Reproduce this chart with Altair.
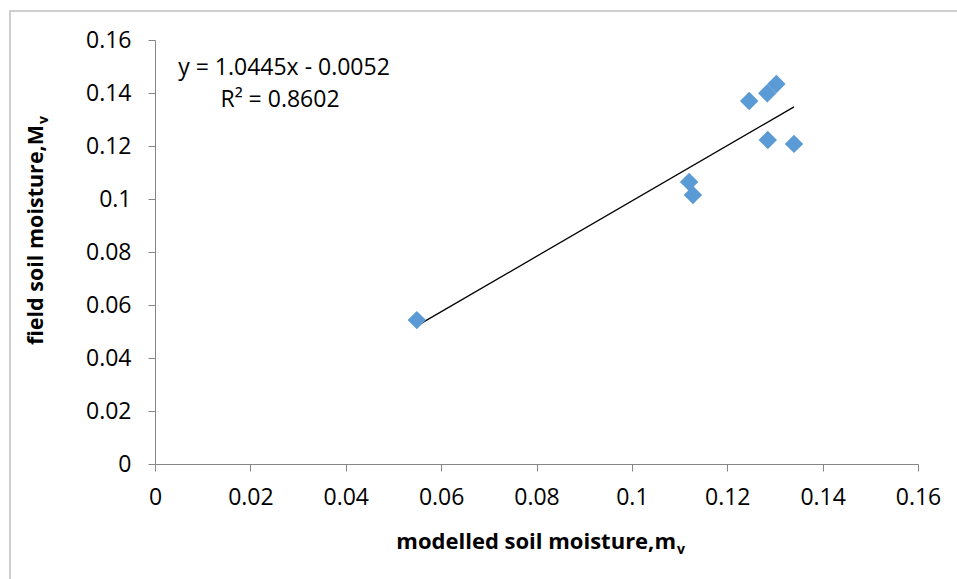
import altair as alt
import pandas as pd

# ---- data ----
modelled = [0.0549, 0.1120, 0.1128, 0.1246, 0.1284, 0.1303, 0.1285, 0.1340]
field = [0.0543, 0.1064, 0.1015, 0.1370, 0.1399, 0.1434, 0.1223, 0.1208]
tick_values = [0, 0.02, 0.04, 0.06, 0.08, 0.10, 0.12, 0.14, 0.16]
slope = 1.0445
intercept = -0.0052
eq_line1 = "y = 1.0445x - 0.0052"
eq_line2 = "R² = 0.8602"
x_title_main, x_title_sub = "modelled soil moisture,m", "v"
y_title_main, y_title_sub = "field soil moisture,M", "v"

pts = pd.DataFrame({"m": modelled, "M": field})
xmin, xmax = min(modelled), max(modelled)
trend = pd.DataFrame({"m": [xmin, xmax],
                      "M": [slope * xmin + intercept, slope * xmax + intercept]})

W, H = 763, 424
FONT = "Open Sans"
AX = "#868686"

xscale = alt.Scale(domain=[0, 0.16], nice=False, zero=False)
yscale = alt.Scale(domain=[0, 0.16], nice=False, zero=False)

xaxis = alt.Axis(values=tick_values, format="~g", title=None, grid=False,
                 domainColor=AX, tickColor=AX, tickSize=7, domainWidth=1, tickWidth=1,
                 labelFont=FONT, labelFontSize=23, labelColor="black", labelPadding=15,
                 labelFlush=False, labelOverlap=False)
yaxis = alt.Axis(values=tick_values, format="~g", title=None, grid=False,
                 domainColor=AX, tickColor=AX, tickSize=7, domainWidth=1, tickWidth=1,
                 labelFont=FONT, labelFontSize=23, labelColor="black", labelPadding=17,
                 labelFlush=False, labelOverlap=False)

points = alt.Chart(pts).mark_point(shape="diamond", filled=True, size=340,
                                   color="#5B9BD5", opacity=1).encode(
    x=alt.X("m:Q", scale=xscale, axis=xaxis),
    y=alt.Y("M:Q", scale=yscale, axis=yaxis),
)

line = alt.Chart(trend).mark_line(color="black", strokeWidth=1.3).encode(
    x=alt.X("m:Q", scale=xscale),
    y=alt.Y("M:Q", scale=yscale),
)

ann = alt.Chart(pd.DataFrame({"a": [0]}))


def txt(s, x, y, size=23, weight="normal", align="center", baseline="middle", angle=0):
    return ann.mark_text(font=FONT, fontSize=size, fontWeight=weight, color="black",
                         align=align, baseline=baseline, angle=angle, clip=False).encode(
        x=alt.value(x), y=alt.value(y), text=alt.value(s))


t1 = txt(eq_line1, 129, 28)
t2 = txt(eq_line2, 125, 60)

# axis titles with a subscript v
xt_main = txt(x_title_main, 521, 509, size=22, weight="bold", align="right",
              baseline="alphabetic")
xt_sub = txt(x_title_sub, 522, 514, size=14, weight="bold", align="left",
             baseline="alphabetic")
yt_main = txt(y_title_main, -112, 85, size=21.5, weight="bold", align="right",
              baseline="alphabetic", angle=270)
yt_sub = txt(y_title_sub, -107, 84, size=14, weight="bold", align="left",
             baseline="alphabetic", angle=270)

frame = ann.mark_rect(filled=False, stroke="#BFBFBF", strokeWidth=1.5, clip=False).encode(
    x=alt.value(-145), y=alt.value(-29), x2=alt.value(900), y2=alt.value(600))

chart = alt.layer(frame, line, points, t1, t2, xt_main, xt_sub, yt_main, yt_sub).properties(
    width=W, height=H,
    autosize=alt.AutoSizeParams(type="none"),
    padding={"left": 155, "top": 40, "right": 39, "bottom": 115},
    background="white",
).configure_view(strokeWidth=0)

chart.save("out.html", embed_options={"renderer": "svg", "actions": False})
